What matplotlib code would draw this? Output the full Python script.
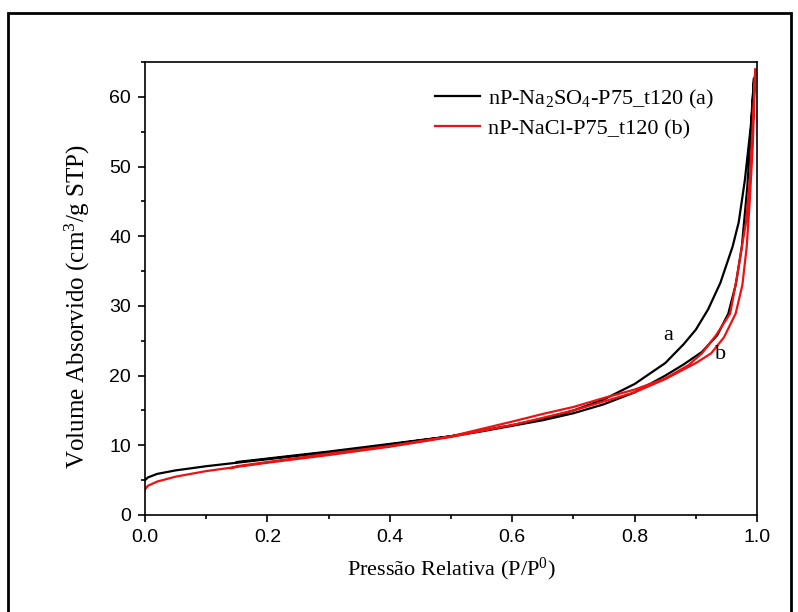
import numpy as np
import matplotlib
matplotlib.use('Agg')
import matplotlib.pyplot as plt
from matplotlib.patches import Rectangle
from matplotlib.ticker import MultipleLocator

# Isoterma de N2 - amostra (a): adsorção seguida da dessorção
p_a = [0.0, 0.005, 0.02, 0.05, 0.10, 0.15, 0.20, 0.25, 0.30, 0.35, 0.40, 0.45,
       0.50, 0.55, 0.60, 0.65, 0.70, 0.75, 0.80, 0.85, 0.88, 0.91, 0.935,
       0.953, 0.965, 0.975, 0.984, 0.990, 0.995,
       0.990, 0.980, 0.970, 0.960, 0.940, 0.920, 0.900, 0.880, 0.850, 0.800,
       0.750, 0.700, 0.650, 0.600, 0.500, 0.400, 0.300, 0.200, 0.150]
v_a = [5.0, 5.4, 5.9, 6.4, 7.0, 7.5, 8.0, 8.5, 9.0, 9.5, 10.1, 10.7,
       11.3, 12.0, 12.8, 13.6, 14.6, 15.9, 17.6, 20.0, 21.6, 23.4, 25.8,
       28.9, 33.0, 38.4, 47.0, 55.0, 62.7,
       56.0, 48.0, 42.0, 38.5, 33.3, 29.5, 26.6, 24.5, 21.8, 18.8,
       16.6, 15.0, 13.8, 12.9, 11.3, 10.2, 9.1, 8.1, 7.6]

# Amostra (b)
p_b = [0.0, 0.005, 0.02, 0.05, 0.10, 0.15, 0.20, 0.30, 0.40, 0.50, 0.60,
       0.70, 0.75, 0.80, 0.85, 0.90, 0.925, 0.946, 0.965, 0.976, 0.983,
       0.988, 0.993, 0.997,
       0.993, 0.988, 0.982, 0.975, 0.967, 0.956, 0.933, 0.910, 0.888,
       0.850, 0.800, 0.750, 0.700, 0.650, 0.600, 0.500, 0.400, 0.300,
       0.200, 0.150, 0.140]
v_b = [3.7, 4.2, 4.8, 5.5, 6.3, 6.9, 7.5, 8.6, 9.8, 11.2, 12.9,
       15.0, 16.3, 17.6, 19.5, 21.8, 23.2, 25.5, 28.9, 33.0, 38.4,
       45.0, 53.0, 64.0,
       56.0, 48.0, 42.0, 38.4, 34.0, 28.9, 25.8, 23.2, 21.5,
       19.6, 18.0, 16.8, 15.5, 14.5, 13.4, 11.3, 9.9, 8.8,
       7.6, 7.0, 6.7]

serif = 'Liberation Serif'
sans = 'Liberation Sans'
plt.rcParams['mathtext.fontset'] = 'custom'
plt.rcParams['mathtext.rm'] = serif
plt.rcParams['mathtext.it'] = serif + ':italic'

fig = plt.figure(figsize=(7.98, 6.12), dpi=100)
ax = fig.add_axes([0.1817, 0.1585, 0.767, 0.7402])

ax.plot(p_a, v_a, color='black', lw=1.6, label=r'nP-Na$_2$SO$_4$-P75_t120 (a)')
ax.plot(p_b, v_b, color='#ee1111', lw=1.6, label='nP-NaCl-P75_t120 (b)')

ax.text(0.855, 25.8, 'a', family=serif, fontsize=16, ha='center', va='center')
ax.text(0.94, 23.0, 'b', family=serif, fontsize=16, ha='center', va='center')

ax.set_xlim(0, 1.0)
ax.set_ylim(0, 65)
ax.xaxis.set_major_locator(MultipleLocator(0.2))
ax.xaxis.set_minor_locator(MultipleLocator(0.1))
ax.yaxis.set_major_locator(MultipleLocator(10))
ax.yaxis.set_minor_locator(MultipleLocator(5))
ax.tick_params(which='both', direction='out', width=1.2, top=False, right=False)
ax.tick_params(which='major', length=5, pad=5)
ax.tick_params(which='minor', length=3)
for lab in ax.get_xticklabels() + ax.get_yticklabels():
    lab.set_family(sans)
    lab.set_fontsize(14)
for s in ax.spines.values():
    s.set_linewidth(1.2)

ax.set_xlabel(r'Pressão Relativa (P/P$^0$)', family=serif, fontsize=16, labelpad=7)
ax.set_ylabel(r'Volume Absorvido (cm$^3$/g STP)', family=serif, fontsize=18)
ax.yaxis.set_label_coords(-0.087, 0.46)

leg = ax.legend(loc='upper left', bbox_to_anchor=(0.459, 0.963), frameon=False,
                prop={'family': serif, 'size': 16}, handlelength=2.03,
                handletextpad=0.36, labelspacing=0.35, borderaxespad=0)

# moldura externa
fig.patches.append(Rectangle((0.010, -0.05), 0.981, 0.9788 + 0.05,
                             transform=fig.transFigure, fill=False,
                             edgecolor='black', lw=2.0))

fig.savefig('out.png', dpi=100)
